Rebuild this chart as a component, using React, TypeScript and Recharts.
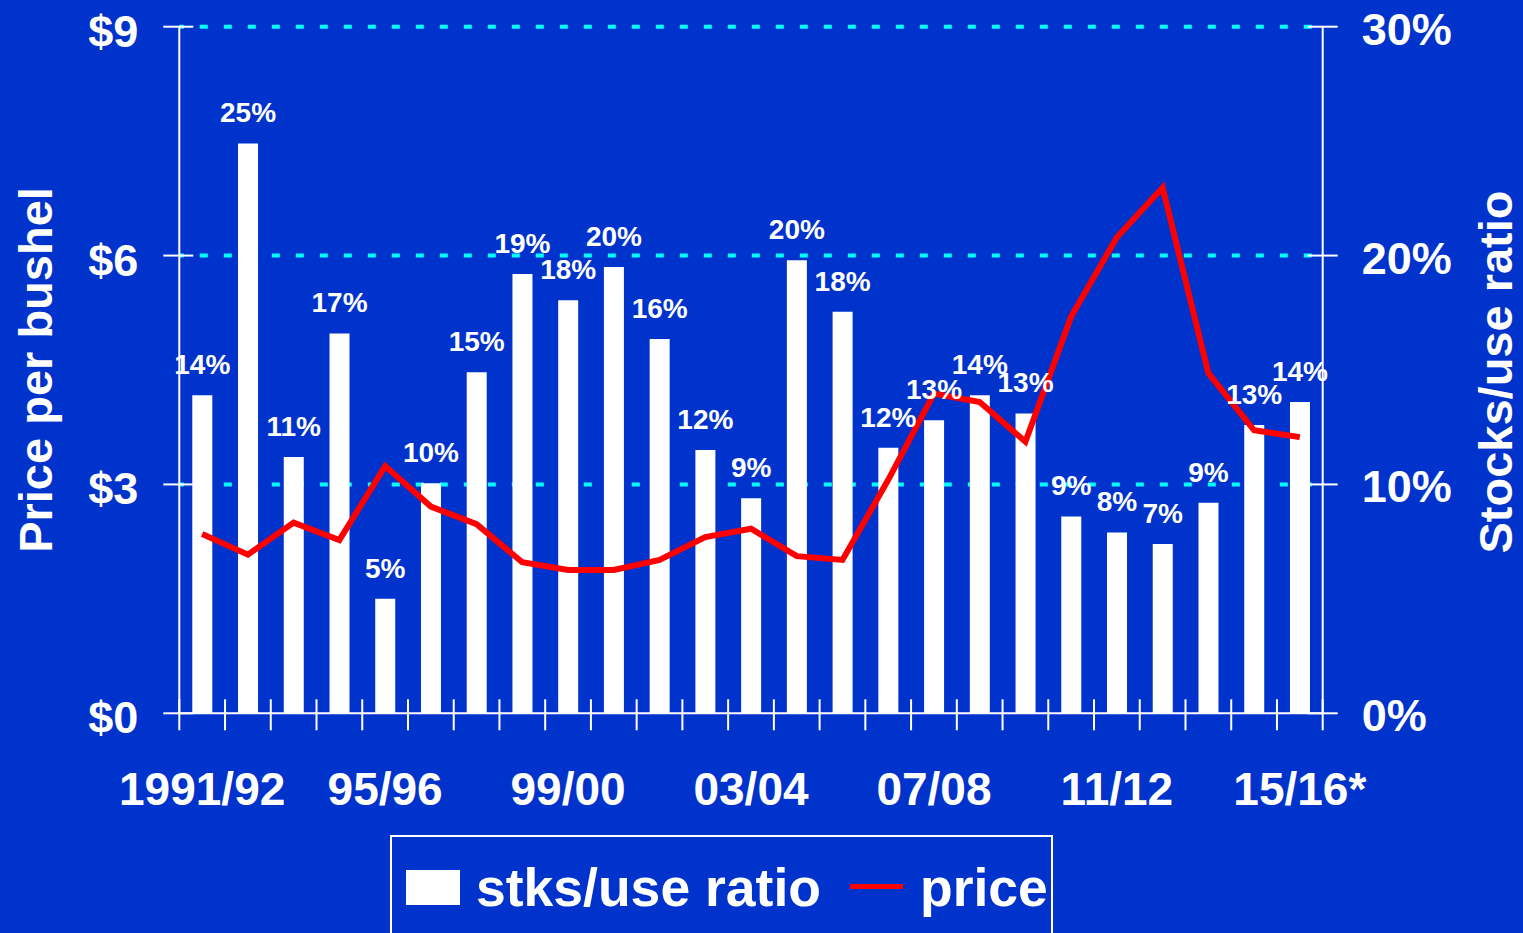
import React from 'react';
import { ComposedChart, Bar, Line, XAxis, YAxis, CartesianGrid, LabelList, Legend } from 'recharts';

// ---- data ----
const years = [
  '1991/92', '92/93', '93/94', '94/95', '95/96', '96/97', '97/98', '98/99', '99/00', '00/01',
  '01/02', '02/03', '03/04', '04/05', '05/06', '06/07', '07/08', '08/09', '09/10', '10/11',
  '11/12', '12/13', '13/14', '14/15', '15/16*',
];
const stocksUse = [
  13.9, 24.9, 11.2, 16.6, 5.0, 10.05, 14.9, 19.2, 18.05, 19.5,
  16.35, 11.5, 9.4, 19.8, 17.55, 11.6, 12.8, 13.9, 13.1, 8.6,
  7.9, 7.4, 9.2, 12.6, 13.6,
];
const price = [
  2.35, 2.08, 2.5, 2.27, 3.24, 2.71, 2.48, 1.98, 1.88, 1.88,
  2.01, 2.31, 2.42, 2.06, 2.01, 3.06, 4.19, 4.08, 3.56, 5.2,
  6.24, 6.89, 4.46, 3.71, 3.62,
];
const priceTicks = [0, 3, 6, 9];
const ratioTicks = [0, 10, 20, 30];
const gridValues = [3, 6, 9];
const labelEvery = 4;

const data = years.map((year, i) => ({ year, ratio: stocksUse[i], price: price[i] }));

// ---- layout ----
const W = 1523;
const H = 933;
const PLOT_LEFT = 179.3;
const PLOT_RIGHT = 1322.7;
const PLOT_TOP = 26.7;
const PLOT_BOTTOM = 713.3;
const AXIS_W = 100;
const XAXIS_H = 100;
const margin = {
  top: PLOT_TOP,
  left: PLOT_LEFT - AXIS_W,
  right: W - PLOT_RIGHT - AXIS_W,
  bottom: H - PLOT_BOTTOM - XAXIS_H,
};
const BAND = (PLOT_RIGHT - PLOT_LEFT) / years.length;

const BG = '#0033CC';
const WHITE = '#FFFFFF';
const RED = '#FF0000';
const CYAN = '#00FFFF';
const FONT = "'Liberation Sans', Arial, Helvetica, sans-serif";

const XTick = (props: any) => {
  const { x, y, payload, index } = props;
  const left = x - BAND / 2;
  return (
    <g>
      <line x1={left} x2={left} y1={y - 14} y2={y + 17} stroke={WHITE} strokeWidth={2} />
      {index === years.length - 1 && (
        <line x1={x + BAND / 2} x2={x + BAND / 2} y1={y - 14} y2={y + 17} stroke={WHITE} strokeWidth={2} />
      )}
      {index % labelEvery === 0 && (
        <text x={x} y={y + 92} textAnchor="middle" fill={WHITE} fontFamily={FONT} fontWeight="bold" fontSize={46}>
          {payload.value}
        </text>
      )}
    </g>
  );
};

const LeftTick = (props: any) => {
  const { x, y, payload } = props;
  return (
    <g>
      <line x1={x - 16} x2={x + 14} y1={y} y2={y} stroke={WHITE} strokeWidth={2} />
      <text x={x - 41} y={y + 20} textAnchor="end" fill={WHITE} fontFamily={FONT} fontWeight="bold" fontSize={45}>
        {'$' + payload.value}
      </text>
    </g>
  );
};

const RightTick = (props: any) => {
  const { x, y, payload } = props;
  return (
    <g>
      <line x1={x - 15} x2={x + 15} y1={y} y2={y} stroke={WHITE} strokeWidth={2} />
      <text x={x + 39} y={y + 18} textAnchor="start" fill={WHITE} fontFamily={FONT} fontWeight="bold" fontSize={45}>
        {payload.value + '%'}
      </text>
    </g>
  );
};

const LeftTitle = (props: any) => {
  const vb = props.viewBox || { x: 79.3, y: PLOT_TOP, height: PLOT_BOTTOM - PLOT_TOP };
  const cx = vb.x - 27.3;
  const cy = 370;
  return (
    <text
      transform={`translate(${cx},${cy}) rotate(-90)`}
      textAnchor="middle"
      fill={WHITE}
      fontFamily={FONT}
      fontWeight="bold"
      fontSize={47}
    >
      Price per bushel
    </text>
  );
};

const RightTitle = (props: any) => {
  const vb = props.viewBox || { x: PLOT_RIGHT };
  const cx = vb.x + 189.3;
  const cy = 372;
  return (
    <text
      transform={`translate(${cx},${cy}) rotate(-90)`}
      textAnchor="middle"
      fill={WHITE}
      fontFamily={FONT}
      fontWeight="bold"
      fontSize={47}
    >
      Stocks/use ratio
    </text>
  );
};

const LegendContent = (props: any) => {
  const payload: any[] = props.payload || [];
  const barItem = payload.find((p) => p.dataKey === 'ratio') || payload[0] || {};
  const lineItem = payload.find((p) => p.dataKey === 'price') || payload[1] || {};
  return (
    <svg width={663} height={98} style={{ display: 'block', overflow: 'hidden' }}>
      <rect x={1} y={1} width={661} height={160} fill="none" stroke={WHITE} strokeWidth={2} />
      <rect x={16} y={35} width={54} height={35} fill={barItem.color || WHITE} />
      <text x={86} y={71} fill={WHITE} fontFamily={FONT} fontWeight="bold" fontSize={53.5}>
        {barItem.value}
      </text>
      <line x1={460} x2={513} y1={51.5} y2={51.5} stroke={lineItem.color || RED} strokeWidth={5} />
      <text x={530} y={71} fill={WHITE} fontFamily={FONT} fontWeight="bold" fontSize={53.5}>
        {lineItem.value}
      </text>
    </svg>
  );
};

export default function App() {
  return (
    <div style={{ position: 'absolute', left: 0, top: 0, width: W, height: H, background: BG, overflow: 'hidden' }}>
      <ComposedChart width={W} height={H} data={data} margin={margin}>
        <CartesianGrid
          yAxisId="left"
          vertical={false}
          horizontal={true}
          horizontalValues={gridValues}
          stroke={CYAN}
          strokeWidth={4}
          strokeDasharray="8 16"
          strokeDashoffset={3.5}
        />
        <XAxis
          dataKey="year"
          type="category"
          interval={0}
          height={XAXIS_H}
          tickSize={0}
          tickMargin={0}
          tickLine={false}
          axisLine={{ stroke: WHITE, strokeWidth: 2 }}
          tick={<XTick />}
        />
        <YAxis
          yAxisId="left"
          orientation="left"
          domain={[0, 9]}
          ticks={priceTicks}
          interval={0}
          width={AXIS_W}
          tickSize={0}
          tickMargin={0}
          tickLine={false}
          axisLine={{ stroke: WHITE, strokeWidth: 2 }}
          tick={<LeftTick />}
          label={{ content: <LeftTitle /> }}
        />
        <YAxis
          yAxisId="right"
          orientation="right"
          domain={[0, 30]}
          ticks={ratioTicks}
          interval={0}
          width={AXIS_W}
          tickSize={0}
          tickMargin={0}
          tickLine={false}
          axisLine={{ stroke: WHITE, strokeWidth: 2 }}
          tick={<RightTick />}
          label={{ content: <RightTitle /> }}
        />
        <Bar yAxisId="right" dataKey="ratio" name="stks/use ratio" fill={WHITE} barSize={20} isAnimationActive={false}>
          <LabelList
            dataKey="ratio"
            position="top"
            offset={21}
            fill={WHITE}
            fontFamily={FONT}
            fontWeight="bold"
            fontSize={28}
            formatter={(v: any) => Math.round(Number(v)) + '%'}
          />
        </Bar>
        <Line
          yAxisId="left"
          dataKey="price"
          name="price"
          type="linear"
          stroke={RED}
          strokeWidth={6}
          dot={false}
          activeDot={false}
          isAnimationActive={false}
        />
        <Legend
          layout="vertical"
          align="center"
          verticalAlign="middle"
          content={<LegendContent />}
          wrapperStyle={{ position: 'absolute', left: 390, top: 835, width: 663, height: 98 }}
        />
      </ComposedChart>
    </div>
  );
}
